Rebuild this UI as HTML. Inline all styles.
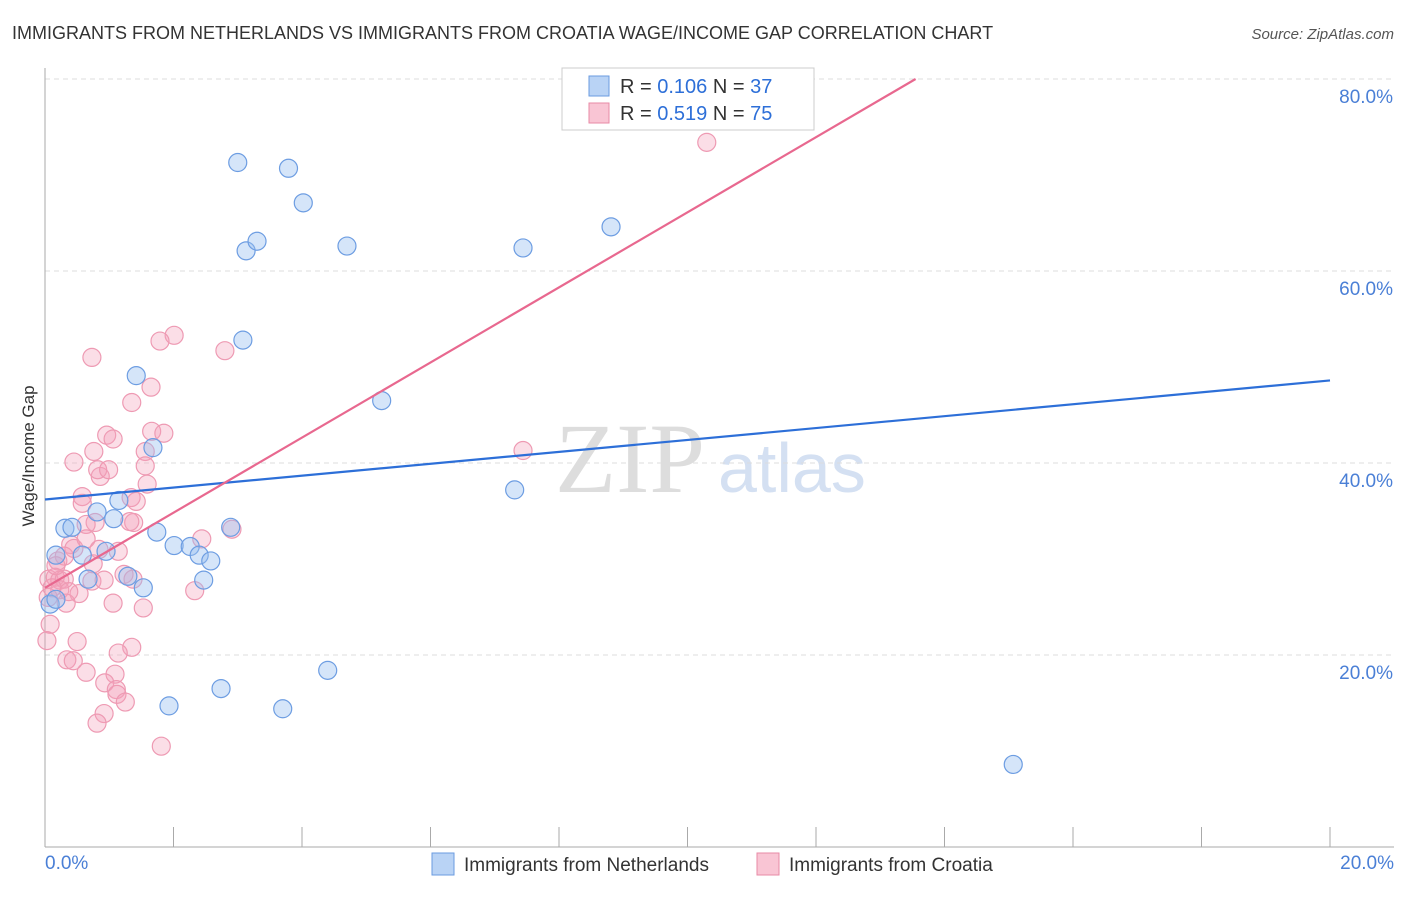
<!DOCTYPE html>
<html><head><meta charset="utf-8"><style>
body{margin:0;background:#fff;font-family:"Liberation Sans",sans-serif}
</style></head><body>
<svg width="1406" height="892" xmlns="http://www.w3.org/2000/svg" font-family="Liberation Sans, sans-serif">
<text x="12" y="39" font-size="18" fill="#333">IMMIGRANTS FROM NETHERLANDS VS IMMIGRANTS FROM CROATIA WAGE/INCOME GAP CORRELATION CHART</text>
<text x="1394" y="39" font-size="15" fill="#555" font-style="italic" text-anchor="end">Source: ZipAtlas.com</text>
<text x="34" y="456" font-size="17" fill="#333" text-anchor="middle" transform="rotate(-90 34 456)">Wage/Income Gap</text>
<text x="555" y="492" font-size="100" fill="#ddd" font-family="Liberation Serif, serif">ZIP</text>
<text x="718" y="492" font-size="70" fill="#d4e0f2">atlas</text>
<g id="grid"></g><g id="pts"></g><g id="lines"></g>
<g>
<rect x="562" y="68" width="252" height="62" fill="#fff" stroke="#ccc"/>
<rect x="589" y="76" width="20" height="20" fill="#b9d3f5" stroke="#6a9be0"/>
<text x="620" y="93" font-size="20" fill="#333">R = <tspan fill="#2d6fd8">0.106</tspan>   N = <tspan fill="#2d6fd8">37</tspan></text>
<rect x="589" y="103" width="20" height="20" fill="#f9c5d4" stroke="#e88aa6"/>
<text x="620" y="120" font-size="20" fill="#333">R = <tspan fill="#2d6fd8">0.519</tspan>   N = <tspan fill="#2d6fd8">75</tspan></text>
</g>
<g>
<rect x="432" y="853" width="22" height="22" fill="#b9d3f5" stroke="#6a9be0"/>
<text x="464" y="871" font-size="19" fill="#333">Immigrants from Netherlands</text>
<rect x="757" y="853" width="22" height="22" fill="#f9c5d4" stroke="#e88aa6"/>
<text x="789" y="871" font-size="19" fill="#333">Immigrants from Croatia</text>
</g>
</svg>
<script>
const yTicks=[20,40,60,80];
const xTickLabels=["0.0%","20.0%"];
const blueX=[3.0,3.79,4.02,3.13,3.30,4.70,7.44,8.81,3.08,1.42,1.68,5.24,7.31,1.15,0.81,1.07,0.31,0.42,1.74,2.89,0.17,0.58,0.95,2.01,2.26,2.40,2.58,1.29,0.67,1.53,2.47,0.08,0.17,4.40,2.74,1.93,3.70,15.07];
const blueY=[71.3,70.7,67.1,62.1,63.1,62.6,62.4,64.6,52.8,49.1,41.6,46.5,37.2,36.1,34.9,34.2,33.2,33.3,32.8,33.3,30.4,30.4,30.8,31.4,31.3,30.4,29.8,28.2,27.9,27.0,27.8,25.3,25.8,18.4,16.5,14.7,14.4,8.6];
const pinkX=[10.30,2.01,1.79,0.73,2.80,1.35,1.65,0.96,1.06,1.66,1.85,0.45,0.76,1.56,1.56,0.86,0.82,0.99,1.59,0.58,0.58,1.34,1.42,0.78,0.64,1.38,1.32,2.44,2.91,0.40,0.45,0.64,1.14,0.20,0.30,0.75,0.06,0.16,0.23,0.30,0.73,1.23,1.37,0.23,0.53,0.33,1.06,1.53,2.33,0.08,0.03,0.50,1.35,1.14,0.34,0.64,0.44,1.09,0.93,1.11,1.12,1.25,0.92,0.81,1.81,7.44,0.05,0.11,0.17,0.37,0.84,0.92];
const pinkY=[73.4,53.3,52.7,51.0,51.7,46.3,47.9,42.9,42.5,43.3,43.1,40.1,41.2,41.2,39.7,38.6,39.3,39.3,37.8,36.5,35.8,36.4,36.0,33.8,33.6,33.8,33.9,32.1,33.1,31.5,31.1,32.1,30.8,29.8,30.3,29.5,27.9,28.1,27.8,27.9,27.7,28.4,27.9,26.8,26.4,25.4,25.4,24.9,26.7,23.2,21.5,21.4,20.8,20.2,19.5,18.2,19.4,18.0,17.1,16.4,15.9,15.1,13.9,12.9,10.5,41.3,26.0,27.0,29.3,26.6,31.0,27.8];
const blueLine=[[0,36.2],[20,48.6]];
const pinkLine=[[0,27.0],[13.55,80]];
const X=v=>45+v/20*1285, Y=v=>847-v*9.6;
const NS="http://www.w3.org/2000/svg";
function mk(t,a,p){const e=document.createElementNS(NS,t);for(const k in a)e.setAttribute(k,a[k]);p.appendChild(e);return e;}
const g=document.getElementById('grid');
for(const t of yTicks){
 const l=mk('line',{x1:45,x2:1394,y1:Y(t),y2:Y(t),stroke:'#ddd','stroke-dasharray':'5,4'},g);
 
 
 const tx=mk('text',{x:1393,y:Y(t)+24,'font-size':19,fill:'#4a7fd6','text-anchor':'end'},g);
 tx.textContent=t.toFixed(1)+'%';
 
 
}
const ax=mk('line',{x1:45,x2:45,y1:68,y2:847,stroke:'#aaa'},g);


const bx=mk('line',{x1:45,x2:1394,y1:847,y2:847,stroke:'#aaa'},g);


for(let i=0;i<=10;i++){const tk=mk('line',{x1:X(i*2),x2:X(i*2),y1:827,y2:847,stroke:'#aaa'},g);
 
 }
const l0=mk('text',{x:45,y:869,'font-size':19,fill:'#4a7fd6'},g);l0.textContent=xTickLabels[0];


const l1=mk('text',{x:1394,y:869,'font-size':19,fill:'#4a7fd6','text-anchor':'end'},g);l1.textContent=xTickLabels[1];


const pg=document.getElementById('pts');
pinkX.forEach((x,i)=>{const c=mk('circle',{cx:X(x),cy:Y(pinkY[i]),r:9,fill:'rgba(244,160,185,0.35)',stroke:'#ee9ab3','stroke-width':1.2},pg);
 
 });
blueX.forEach((x,i)=>{const c=mk('circle',{cx:X(x),cy:Y(blueY[i]),r:9,fill:'rgba(150,190,240,0.4)',stroke:'#6d9de2','stroke-width':1.2},pg);
 
 });
const lg=document.getElementById('lines');
const bl=mk('line',{x1:X(blueLine[0][0]),y1:Y(blueLine[0][1]),x2:X(blueLine[1][0]),y2:Y(blueLine[1][1]),stroke:'#2d6fd8','stroke-width':2.2},lg);


const pl=mk('line',{x1:X(pinkLine[0][0]),y1:Y(pinkLine[0][1]),x2:X(pinkLine[1][0]),y2:Y(pinkLine[1][1]),stroke:'#e8688f','stroke-width':2.2},lg);


</script>
</body></html>
